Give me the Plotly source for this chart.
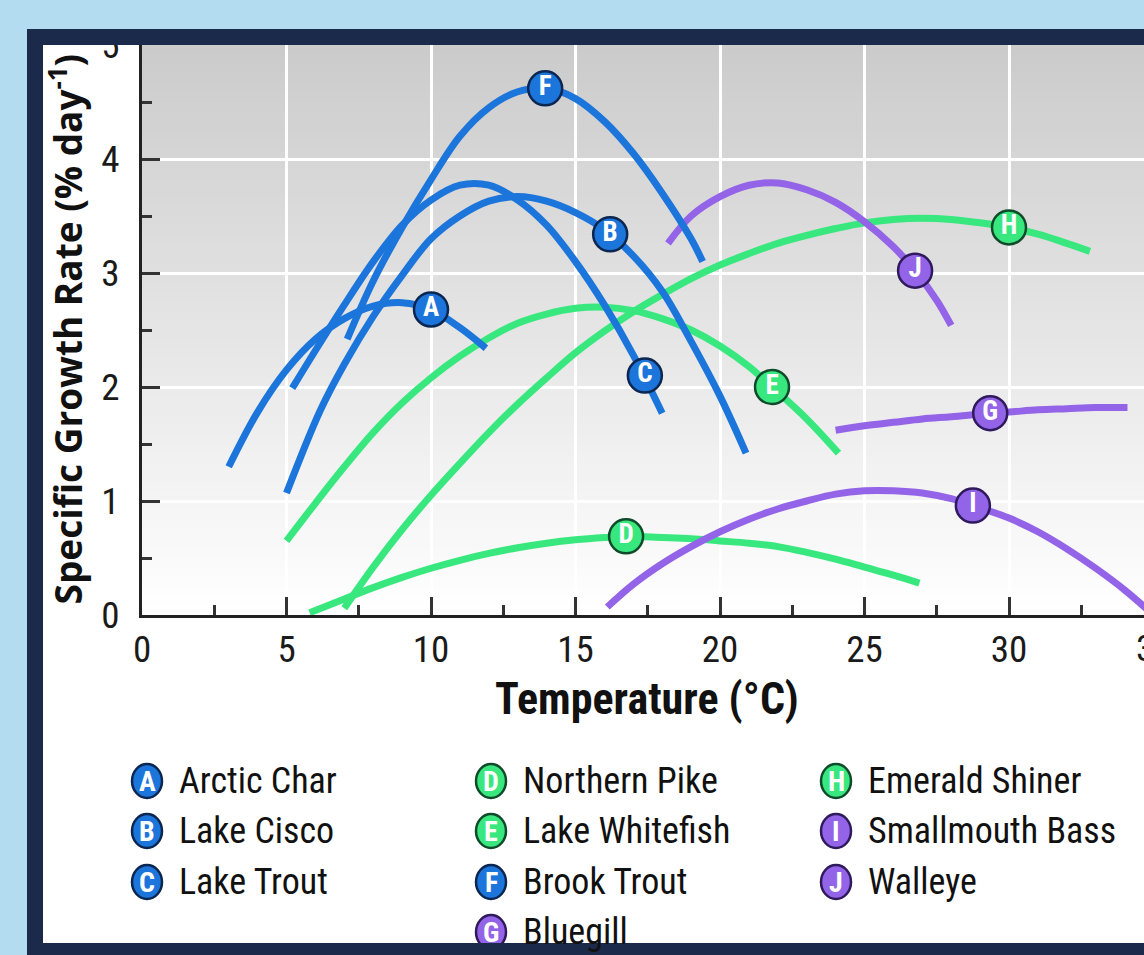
import plotly.graph_objects as go

# ---------------- data ----------------
arctic_char_x = [3.0, 4.0, 5.0, 6.0, 7.0, 8.0, 9.0, 10.0, 11.0, 11.9]
arctic_char_y = [1.30, 1.78, 2.15, 2.42, 2.60, 2.71, 2.74, 2.68, 2.52, 2.34]

lake_cisco_x = [5.0, 6.16, 7, 8, 9, 10, 11, 12, 13, 14, 15, 16, 17, 18, 19, 20, 20.9]
lake_cisco_y = [1.07, 1.79, 2.2, 2.62, 2.98, 3.3, 3.5, 3.63, 3.67, 3.63, 3.53, 3.38, 3.15, 2.84, 2.4, 1.92, 1.42]

lake_trout_x = [5.2, 6, 7, 8, 9, 10, 11, 12, 13, 14, 15, 16, 17, 18]
lake_trout_y = [1.99, 2.32, 2.72, 3.1, 3.42, 3.64, 3.77, 3.77, 3.64, 3.42, 3.1, 2.72, 2.28, 1.77]

northern_pike_x = [5.8, 7, 8, 9, 10, 11, 12, 13, 14, 15, 16, 16.75, 18, 19, 20, 21, 22, 23, 24, 25, 26, 26.9]
northern_pike_y = [0.02, 0.14, 0.24, 0.33, 0.41, 0.48, 0.54, 0.59, 0.63, 0.66, 0.68, 0.69, 0.68, 0.67, 0.65, 0.63, 0.6, 0.55, 0.49, 0.42, 0.35, 0.28]

lake_whitefish_x = [5, 6, 7, 8, 9, 10, 11, 12, 13, 14, 15, 16, 17, 18, 19, 20, 21, 21.8, 23, 24.1]
lake_whitefish_y = [0.65, 0.98, 1.3, 1.6, 1.86, 2.08, 2.27, 2.43, 2.56, 2.64, 2.69, 2.7, 2.67, 2.6, 2.5, 2.36, 2.18, 2.0, 1.72, 1.42]

brook_trout_x = [7.1, 8, 9, 10, 11, 12, 13, 14, 15, 16, 17, 18, 19, 19.4]
brook_trout_y = [2.42, 2.93, 3.4, 3.82, 4.2, 4.45, 4.59, 4.62, 4.53, 4.33, 4.05, 3.7, 3.3, 3.1]

bluegill_x = [24, 25, 26, 27, 28, 29.35, 30, 31, 32, 33, 34.1]
bluegill_y = [1.62, 1.66, 1.69, 1.72, 1.74, 1.77, 1.78, 1.8, 1.81, 1.82, 1.82]

emerald_shiner_x = [7, 8, 9, 10, 11, 12, 13, 14, 15, 16, 17, 18, 19, 20, 21, 22, 23, 24, 25, 26, 27, 28, 29, 30, 31, 32, 32.8]
emerald_shiner_y = [0.06, 0.42, 0.75, 1.05, 1.33, 1.6, 1.85, 2.08, 2.3, 2.49, 2.66, 2.81, 2.95, 3.07, 3.17, 3.26, 3.33, 3.39, 3.44, 3.47, 3.48, 3.47, 3.44, 3.4, 3.34, 3.26, 3.19]

smallmouth_bass_x = [16.1, 17, 18, 19, 20, 21, 22, 23, 24, 25, 26, 27, 28, 28.75, 30, 31, 32, 33, 34, 35]
smallmouth_bass_y = [0.07, 0.27, 0.45, 0.6, 0.73, 0.84, 0.93, 1.0, 1.06, 1.09, 1.09, 1.07, 1.02, 0.96, 0.85, 0.73, 0.58, 0.41, 0.22, 0.0]

walleye_x = [18.2, 19, 20, 21, 22, 23, 24, 25, 26, 26.75, 27.5, 28]
walleye_y = [3.26, 3.5, 3.67, 3.77, 3.79, 3.73, 3.62, 3.45, 3.23, 3.02, 2.76, 2.54]

letters = ["A", "B", "C", "D", "E", "F", "G", "H", "I", "J"]
species = ["Arctic Char", "Lake Cisco", "Lake Trout", "Northern Pike", "Lake Whitefish",
           "Brook Trout", "Bluegill", "Emerald Shiner", "Smallmouth Bass", "Walleye"]
groups = ["blue", "blue", "blue", "green", "green", "blue", "purple", "green", "purple", "purple"]
label_x = [10.0, 16.2, 17.4, 16.75, 21.8, 13.95, 29.35, 30.0, 28.75, 26.75]
label_y = [2.68, 3.34, 2.1, 0.69, 2.0, 4.62, 1.77, 3.4, 0.96, 3.02]

x_ticks = [0, 5, 10, 15, 20, 25, 30]
y_ticks = [0, 1, 2, 3, 4, 5]

curves_x = [arctic_char_x, lake_cisco_x, lake_trout_x, northern_pike_x, lake_whitefish_x,
            brook_trout_x, bluegill_x, emerald_shiner_x, smallmouth_bass_x, walleye_x]
curves_y = [arctic_char_y, lake_cisco_y, lake_trout_y, northern_pike_y, lake_whitefish_y,
            brook_trout_y, bluegill_y, emerald_shiner_y, smallmouth_bass_y, walleye_y]

# ---------------- styles ----------------
LINE = {"blue": "#1b75da", "green": "#38e87e", "purple": "#9464e8"}
EDGE = {"blue": "#0b2650", "green": "#0f4a2b", "purple": "#2f1a5e"}
NAVY = "#1b2a4b"
SKY = "#b3dcf1"
COND = "Roboto Condensed"
WIDE = "Open Sans"

L, R, T, B = 142, 1144, 45, 615
W, H = R - L, B - T


def px(xp):
    return (xp - L) / W


def py(yp):
    return (B - yp) / H


fig = go.Figure()

draw_order = [7, 4, 3, 6, 8, 9, 0, 1, 2, 5]
for i in draw_order:
    fig.add_trace(go.Scatter(
        x=curves_x[i], y=curves_y[i], mode="lines",
        line=dict(color=LINE[groups[i]], width=7, shape="spline", smoothing=1.0),
        hoverinfo="skip", showlegend=False))

for i in range(len(letters)):
    g = groups[i]
    fig.add_trace(go.Scatter(
        x=[label_x[i]], y=[label_y[i]], mode="markers+text", text=[letters[i]],
        textposition="middle center",
        textfont=dict(family=COND, size=27, color="white", weight="bold"),
        marker=dict(size=34, color=LINE[g], line=dict(color=EDGE[g], width=2.5)),
        hoverinfo="skip", showlegend=False))

shapes = []
shapes.append(dict(type="rect", xref="paper", yref="paper", layer="below",
                   x0=px(43), x1=px(1160), y0=py(45), y1=py(960),
                   fillcolor="white", line_width=0))
nb = 60
for k in range(nb):
    y0 = 5.0 * k / nb
    y1 = 5.0 * (k + 1) / nb
    v = int(round(255 - (255 - 203) * (k + 0.5) / nb))
    shapes.append(dict(type="rect", xref="paper", yref="y", layer="below",
                       x0=0, x1=1.02, y0=y0, y1=y1 + 0.01,
                       fillcolor=f"rgb({v},{v},{v})", line_width=0))

col_circle = [147, 491, 836]
col_text = [177, 521, 866]
row_y = [781, 831, 882, 932]
legend_layout = [(0, 0), (0, 1), (0, 2), (1, 0), (1, 1), (1, 2), (1, 3), (2, 0), (2, 1), (2, 2)]
annotations = []
for i, (c, r) in enumerate(legend_layout):
    g = groups[i]
    shapes.append(dict(type="circle", xref="paper", yref="paper", layer="above",
                       xsizemode="pixel", ysizemode="pixel",
                       xanchor=px(col_circle[c]), yanchor=py(row_y[r]),
                       x0=-15, x1=15, y0=-17, y1=17,
                       fillcolor=LINE[g], line=dict(color=EDGE[g], width=2.5)))
    annotations.append(dict(xref="paper", yref="paper", x=px(col_circle[c]), y=py(row_y[r]),
                            text=letters[i], showarrow=False, xanchor="center", yanchor="middle",
                            font=dict(family=COND, size=28, color="white", weight="bold")))
    annotations.append(dict(xref="paper", yref="paper", x=px(col_text[c]), y=py(row_y[r]),
                            text=species[i], showarrow=False, xanchor="left", yanchor="middle",
                            font=dict(family=COND, size=36, color="#111111")))

shapes.append(dict(type="rect", xref="paper", yref="paper", layer="above",
                   x0=px(27), x1=px(1160), y0=py(45), y1=py(29),
                   fillcolor=NAVY, line_width=0))
shapes.append(dict(type="rect", xref="paper", yref="paper", layer="above",
                   x0=px(27), x1=px(43), y0=py(960), y1=py(29),
                   fillcolor=NAVY, line_width=0))
shapes.append(dict(type="rect", xref="paper", yref="paper", layer="above",
                   x0=px(27), x1=px(1160), y0=py(960), y1=py(943),
                   fillcolor=NAVY, line_width=0))

annotations.append(dict(xref="paper", yref="paper", x=px(647), y=py(699),
                        text="Temperature (°C)", showarrow=False,
                        xanchor="center", yanchor="middle",
                        font=dict(family=COND, size=44, color="#111111", weight="bold")))
annotations.append(dict(xref="paper", yref="paper", x=px(66), y=py(607),
                        text="Specific Growth Rate (% day<sup>-1</sup>)", showarrow=False,
                        textangle=-90, xanchor="center", yanchor="bottom",
                        font=dict(family=WIDE, size=37, color="#111111", weight="bold")))
annotations.append(dict(xref="paper", yref="paper", x=px(1154), y=py(648),
                        text="35", showarrow=False, xanchor="center", yanchor="middle",
                        font=dict(family=COND, size=37, color="#1a1a1a")))

fig.update_layout(
    width=1144, height=955,
    margin=dict(l=L, r=0, t=T, b=955 - B, pad=0),
    paper_bgcolor=SKY, plot_bgcolor="rgba(0,0,0,0)",
    shapes=shapes, annotations=annotations, showlegend=False,
    xaxis=dict(range=[0, W / 28.9], tickvals=x_ticks, ticktext=[str(v) for v in x_ticks],
               showgrid=True, gridcolor="white", gridwidth=2.5, zeroline=False,
               showline=True, linecolor="#222222", linewidth=3, automargin=False,
               ticks="inside", ticklen=18, tickwidth=2.5, tickcolor="#333333",
               minor=dict(ticks="inside", ticklen=10, tickwidth=2.5, tickcolor="#333333",
                          dtick=2.5, tick0=0, showgrid=False),
               ticklabelstandoff=0,
               tickfont=dict(family=COND, size=37, color="#1a1a1a"), fixedrange=True),
    yaxis=dict(range=[0, 5], tickvals=y_ticks, ticktext=[str(v) for v in y_ticks],
               showgrid=True, gridcolor="white", gridwidth=2.5, zeroline=False,
               showline=True, linecolor="#222222", linewidth=3, automargin=False,
               ticks="inside", ticklen=18, tickwidth=2.5, tickcolor="#333333",
               minor=dict(ticks="inside", ticklen=10, tickwidth=2.5, tickcolor="#333333",
                          dtick=0.5, tick0=0, showgrid=False),
               ticklabelstandoff=12,
               tickfont=dict(family=COND, size=37, color="#1a1a1a"), fixedrange=True),
)

fig.write_html("out.html", config={"displayModeBar": False},
               post_script="document.body.style.margin='0px';document.body.style.overflow='hidden';")
